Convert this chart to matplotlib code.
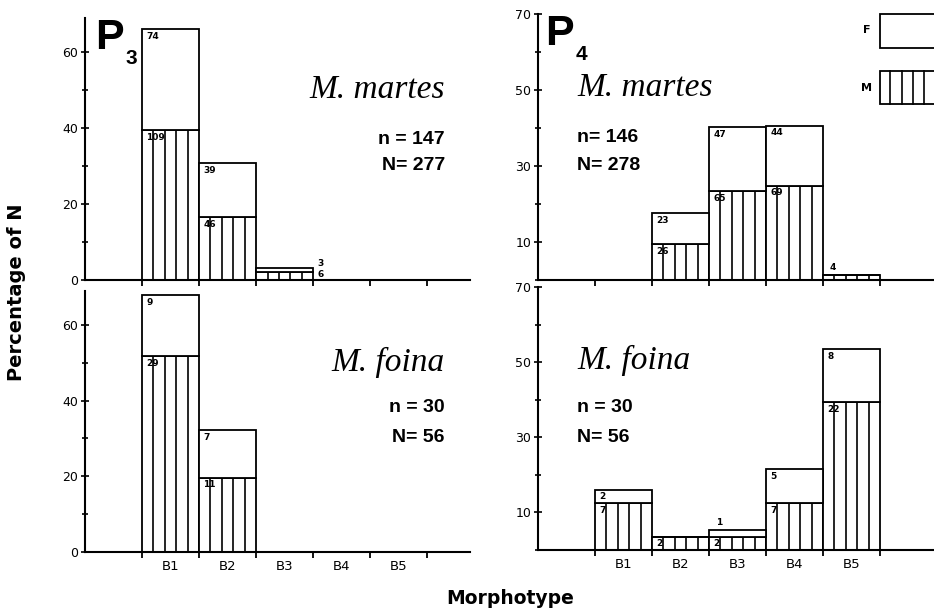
import numpy as np
import matplotlib
matplotlib.use("Agg")
import matplotlib.pyplot as plt
from matplotlib.patches import Rectangle
from matplotlib.lines import Line2D

# morphotype classes
bins = ["B1", "B2", "B3", "B4", "B5"]

# counts per class (M = hatched, F = open), P3 / P4, two species
p3_martes_m = [109, 46, 6, 0, 0]
p3_martes_f = [74, 39, 3, 0, 0]
p4_martes_m = [0, 26, 65, 69, 4]
p4_martes_f = [0, 23, 47, 44, 0]
p3_foina_m = [29, 11, 0, 0, 0]
p3_foina_f = [9, 7, 0, 0, 0]
p4_foina_m = [7, 2, 2, 7, 22]
p4_foina_f = [2, 0, 1, 5, 8]

n_martes = {"P3": 147, "P4": 146}
N_martes = {"P3": 277, "P4": 278}
n_foina = 30
N_foina = 56

W, H = 934, 615
fig = plt.figure(figsize=(W / 100, H / 100), dpi=100)


def px(x, y):
    return x / W, 1 - y / H


def add_axes(x0, x1, ytop, ybot):
    l, b = px(x0, ybot)
    return fig.add_axes([l, b, (x1 - x0) / W, (ybot - ytop) / H])


ax_tl = add_axes(85, 470, 14, 280)
ax_tr = add_axes(538, 937, 14, 280)
ax_bl = add_axes(85, 470, 287, 552)
ax_br = add_axes(538, 937, 287, 550)

lab_font = dict(fontsize=6.5, fontweight="bold", family="DejaVu Sans")


def draw_panel(ax, m_counts, f_counts, N, xmax, small_mode):
    m = np.array(m_counts) / N * 100
    f = np.array(f_counts) / N * 100
    x = np.arange(1, len(bins) + 1)
    ax.bar(x, m, width=1, align="edge", facecolor="white", edgecolor="black", lw=1.3, zorder=2)
    ax.bar(x, f, width=1, bottom=m, align="edge", facecolor="white", edgecolor="black", lw=1.3, zorder=2)
    for i in range(len(bins)):
        if m[i] > 0:
            ax.vlines(x[i] + np.arange(1, 5) * 0.2, 0, m[i], color="black", lw=1.2, zorder=3)
        # count labels
        for cnt, top, h in [(m_counts[i], m[i], m[i]), (f_counts[i], m[i] + f[i], f[i])]:
            if cnt == 0:
                continue
            if h >= 3:
                ax.annotate(str(cnt), (x[i], top), xytext=(3, -2), textcoords="offset points",
                            ha="left", va="top", zorder=4, **lab_font)
            elif small_mode == "right":
                ax.annotate(str(cnt), (x[i] + 1, top), xytext=(3, 3 if cnt == f_counts[i] else -2),
                            textcoords="offset points", ha="left", va="center", zorder=4, **lab_font)
            else:
                ax.annotate(str(cnt), (x[i], m[i] + f[i]), xytext=(5, 2), textcoords="offset points",
                            ha="left", va="bottom", zorder=4, **lab_font)
    ax.set_xlim(0, xmax)
    ax.set_ylim(0, 70)
    for s in ["top", "right"]:
        ax.spines[s].set_visible(False)
    for s in ["left", "bottom"]:
        ax.spines[s].set_linewidth(1.5)
    ax.set_xticks(np.arange(1, 7))
    ax.set_xticklabels([])
    ax.tick_params(axis="x", which="major", direction="out", length=4, width=1.3)
    ax.tick_params(axis="y", which="both", direction="inout", width=1.2)
    ax.tick_params(axis="y", which="major", length=6, labelsize=9, pad=2)
    ax.tick_params(axis="y", which="minor", length=5)


draw_panel(ax_tl, p3_martes_m, p3_martes_f, N_martes["P3"], 6.75, "right")
draw_panel(ax_tr, p4_martes_m, p4_martes_f, N_martes["P4"], 7.0, "above")
draw_panel(ax_bl, p3_foina_m, p3_foina_f, N_foina, 6.75, "right")
draw_panel(ax_br, p4_foina_m, p4_foina_f, N_foina, 7.0, "above")

for ax in (ax_tl, ax_bl):
    ax.set_yticks([0, 20, 40, 60])
    ax.set_yticks([10, 30, 50], minor=True)
    ax.spines["left"].set_bounds(0, 69)
for ax in (ax_tr, ax_br):
    ax.set_yticks([10, 30, 50, 70])
    ax.set_yticks([0, 20, 40, 60], minor=True)

for ax in (ax_bl, ax_br):
    ax.set_xticks(np.arange(1, 6) + 0.5, minor=True)
    ax.set_xticklabels(bins, minor=True)
    ax.tick_params(axis="x", which="minor", length=0, labelsize=9.5, pad=6)

# panel headings
big_p = dict(fontsize=31, fontweight="bold", family="Liberation Sans", ha="left", va="center")
sub_p = dict(fontsize=15, fontweight="bold", family="Liberation Sans", ha="left", va="center")
fig.text(*px(95, 38), "P", **big_p)
fig.text(*px(126, 58), "3", **sub_p)
fig.text(*px(545, 34), "P", **big_p)
fig.text(*px(576, 54), "4", **sub_p)

sp = dict(fontsize=24, style="italic", family="Liberation Serif", va="center")
nn = dict(fontsize=14, fontweight="bold", family="Liberation Sans", va="center")

fig.text(*px(445, 90), "M. martes", ha="right", **sp)
fig.text(*px(445, 140), "n = %d" % n_martes["P3"], ha="right", **nn)
fig.text(*px(445, 166), "N= %d" % N_martes["P3"], ha="right", **nn)

fig.text(*px(577, 88), "M. martes", ha="left", **sp)
fig.text(*px(577, 138), "n= %d" % n_martes["P4"], ha="left", **nn)
fig.text(*px(577, 165), "N= %d" % N_martes["P4"], ha="left", **nn)

fig.text(*px(445, 362), "M. foina", ha="right", **sp)
fig.text(*px(445, 408), "n = %d" % n_foina, ha="right", **nn)
fig.text(*px(445, 438), "N= %d" % N_foina, ha="right", **nn)

fig.text(*px(577, 360), "M. foina", ha="left", **sp)
fig.text(*px(577, 407), "n = %d" % n_foina, ha="left", **nn)
fig.text(*px(577, 437), "N= %d" % N_foina, ha="left", **nn)

# legend (cut by the right border as in the original)
fig.text(*px(867, 30), "F", fontsize=8, fontweight="bold", ha="center", va="center")
fig.text(*px(866, 88), "M", fontsize=8, fontweight="bold", ha="center", va="center")
l, b = px(880, 48)
fig.add_artist(Rectangle((l, b), 80 / W, 34 / H, transform=fig.transFigure,
                         facecolor="white", edgecolor="black", lw=1.3))
l, b = px(880, 104)
fig.add_artist(Rectangle((l, b), 80 / W, 33 / H, transform=fig.transFigure,
                         facecolor="white", edgecolor="black", lw=1.3))
for xl in [890, 902, 913, 924]:
    fig.add_artist(Line2D([xl / W, xl / W], [1 - 104 / H, 1 - 71 / H], transform=fig.transFigure,
                          color="black", lw=1.2))

fig.text(*px(17, 292), "Percentage of N", rotation=90, fontsize=14, fontweight="bold",
         ha="center", va="center")
fig.text(*px(510, 598), "Morphotype", fontsize=13.5, fontweight="bold", ha="center", va="center")

fig.savefig("out.png", dpi=100)
